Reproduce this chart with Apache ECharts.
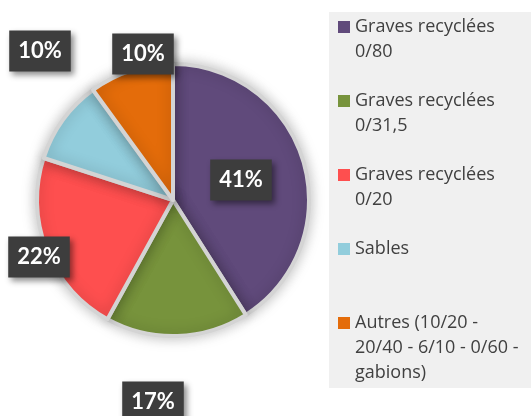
<!DOCTYPE html>
<html>
<head>
<meta charset="utf-8">
<script src="https://cdn.jsdelivr.net/npm/echarts@6/dist/echarts.min.js"></script>
<style>html,body{margin:0;padding:0;background:#fff}#c{width:531px;height:416px}</style>
</head>
<body>
<div id="c"></div>
<script>
const categories = ['Graves recyclées 0/80', 'Graves recyclées 0/31,5', 'Graves recyclées 0/20', 'Sables', 'Autres (10/20 - 20/40 - 6/10 - 0/60 - gabions)'];
const legendLines = [
  ['Graves recyclées', '0/80'],
  ['Graves recyclées', '0/31,5'],
  ['Graves recyclées', '0/20'],
  ['Sables', ''],
  ['Autres (10/20 -', '20/40 - 6/10 - 0/60 -', 'gabions)']
];
const values = [41, 17, 22, 10, 10];
const colors = ['#604a7b', '#77933c', '#fe4f4f', '#92cddc', '#e46c0a'];
const labelPos = [[241, 180], [153, 402], [39, 257], [40, 51], [143, 54]];

const chart = echarts.init(document.getElementById('c'), null, {renderer: 'canvas'});
const rich = {
  t: {fontFamily: 'Open Sans', fontSize: 18, color: '#404040', lineHeight: 25, verticalAlign: 'middle'},
  sp: {width: 5, lineHeight: 25},
  ind: {width: 17, lineHeight: 25}
};
colors.forEach((c, i) => {
  rich['sq' + i] = {width: 12, height: 12, backgroundColor: c, verticalAlign: 'middle', lineHeight: 25};
});
chart.setOption({
  animation: false,
  color: colors,
  graphic: [{type: 'rect', shape: {x: 329, y: 12, width: 202, height: 376}, style: {fill: '#f0f0f0'}, z: -10}],
  legend: {
    orient: 'vertical', left: 332, top: 18, padding: 0, itemGap: 31,
    itemWidth: 0, itemHeight: 0, itemStyle: {opacity: 0},
    selectedMode: false,
    data: categories,
    textStyle: {rich: rich},
    formatter: function (name) {
      const i = categories.indexOf(name);
      const lines = legendLines[i];
      let s = '{sq' + i + '|}{sp|}{t|' + lines[0] + '}';
      for (let k = 1; k < lines.length; k++) s += '\n{ind|}{t|' + (lines[k] || ' ') + '}';
      return s;
    }
  },
  series: [{
    type: 'pie',
    center: [173, 200],
    radius: 136,
    startAngle: 90,
    clockwise: true,
    data: categories.map((n, i) => ({name: n, value: values[i]})),
    itemStyle: {borderColor: '#d4d4d4', borderWidth: 4, shadowBlur: 14, shadowColor: 'rgba(0,0,0,0.25)'},
    label: {
      show: true,
      position: 'inside',
      formatter: '{d}%',
      fontFamily: 'Lato', fontWeight: 'bold', fontSize: 22, color: '#ffffff',
      backgroundColor: '#3d3d3d', padding: [9, 9, 8, 9], lineHeight: 24,
      shadowBlur: 6, shadowColor: 'rgba(0,0,0,0.45)', shadowOffsetX: 3, shadowOffsetY: 3
    },
    labelLine: {show: false},
    labelLayout: function (p) {
      const pos = labelPos[p.dataIndex];
      return {x: pos[0], y: pos[1], align: 'center', verticalAlign: 'middle'};
    },
    emphasis: {disabled: true}
  }]
});
</script>
</body>
</html>
